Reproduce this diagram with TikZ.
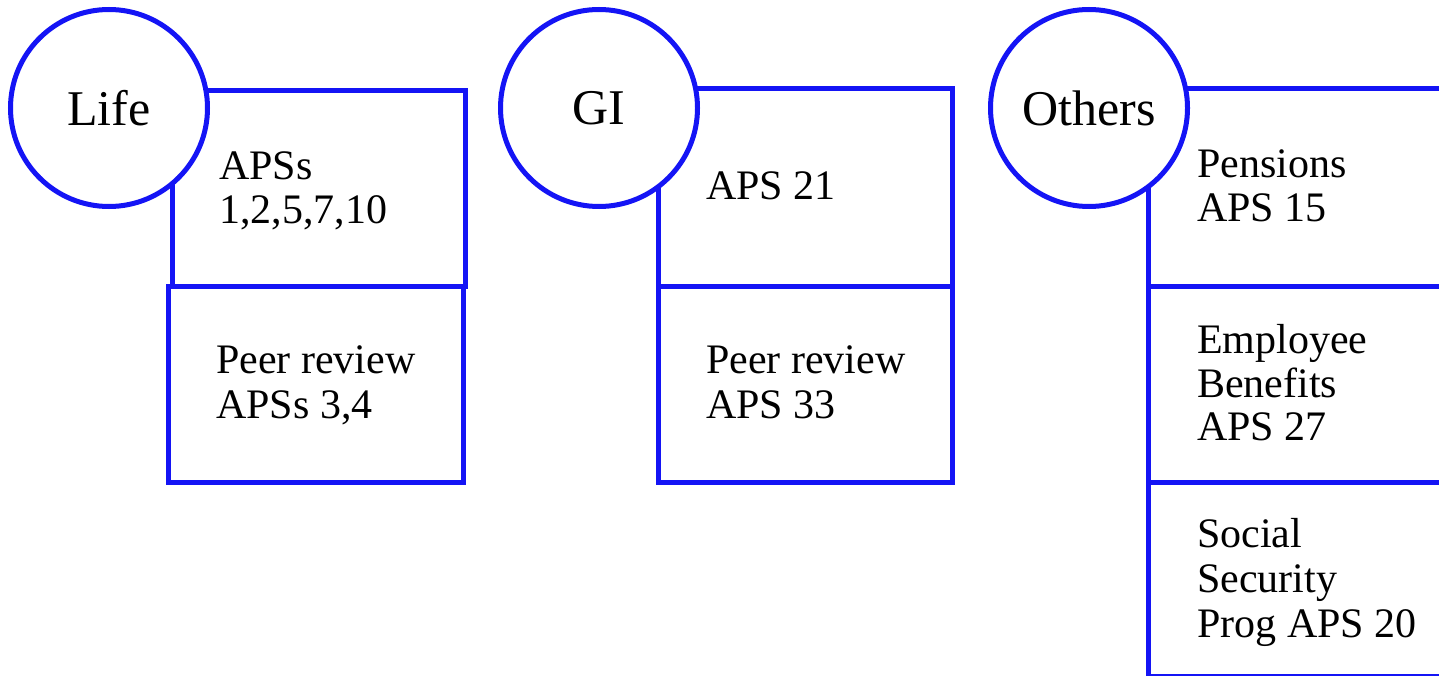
\documentclass[tikz,border=0pt]{standalone}
\usepackage{fontspec}
\setmainfont{Liberation Serif}
\definecolor{lineblue}{RGB}{20,20,245}
\tikzset{
  boxnode/.style={draw=lineblue, line width=5pt, rectangle, inner sep=0pt, outer sep=0pt, anchor=north west},
  circnode/.style={draw=lineblue, line width=5pt, circle, fill=white, inner sep=0pt, outer sep=0pt, minimum size=197pt, font=\fontsize{50}{55}\selectfont},
  txt/.style={anchor=base west, inner sep=0pt, font=\fontsize{42}{44}\selectfont}
}
\begin{document}
\begin{tikzpicture}[x=1pt,y=-1pt]
\useasboundingbox (0,0) rectangle (1439,676);
\clip (0,0) rectangle (1439,676);
% Life
\node[boxnode, minimum width=293pt, minimum height=195pt] (lifeA) at (172,91) {};
\node[boxnode, minimum width=295pt, minimum height=196pt] (lifeB) at (168,286) {};
\node[circnode] (life) at (109,108) {Life};
\node[txt] (lifeA1) at (219,180) {APSs};
\node[txt] (lifeA2) at (219,224) {1,2,5,7,10};
\node[txt] (lifeB1) at (216,373) {Peer review};
\node[txt] (lifeB2) at (216,418) {APSs 3,4};
% GI
\node[boxnode, minimum width=294pt, minimum height=197pt] (giA) at (658,89) {};
\node[boxnode, minimum width=294pt, minimum height=196pt] (giB) at (658,286) {};
\node[circnode] (gi) at (599,108) {GI};
\node[txt] (giA1) at (706,200) {APS 21};
\node[txt] (giB1) at (706,373) {Peer review};
\node[txt] (giB2) at (706,418) {APS 33};
% Others
\node[boxnode, minimum width=330pt, minimum height=197pt] (othA) at (1148,89) {};
\node[boxnode, minimum width=330pt, minimum height=196pt] (othB) at (1148,286) {};
\node[boxnode, minimum width=330pt, minimum height=194pt] (othC) at (1148,482) {};
\node[circnode] (oth) at (1089,108) {Others};
\node[txt] (othA1) at (1197,178) {Pensions};
\node[txt] (othA2) at (1197,222) {APS 15};
\node[txt] (othB1) at (1197,353) {Employee};
\node[txt] (othB2) at (1197,397) {Benefits};
\node[txt] (othB3) at (1197,440) {APS 27};
\node[txt] (othC1) at (1197,547) {Social};
\node[txt] (othC2) at (1197,592) {Security};
\node[txt] (othC3) at (1197,637) {Prog APS 20};
\end{tikzpicture}
\end{document}
